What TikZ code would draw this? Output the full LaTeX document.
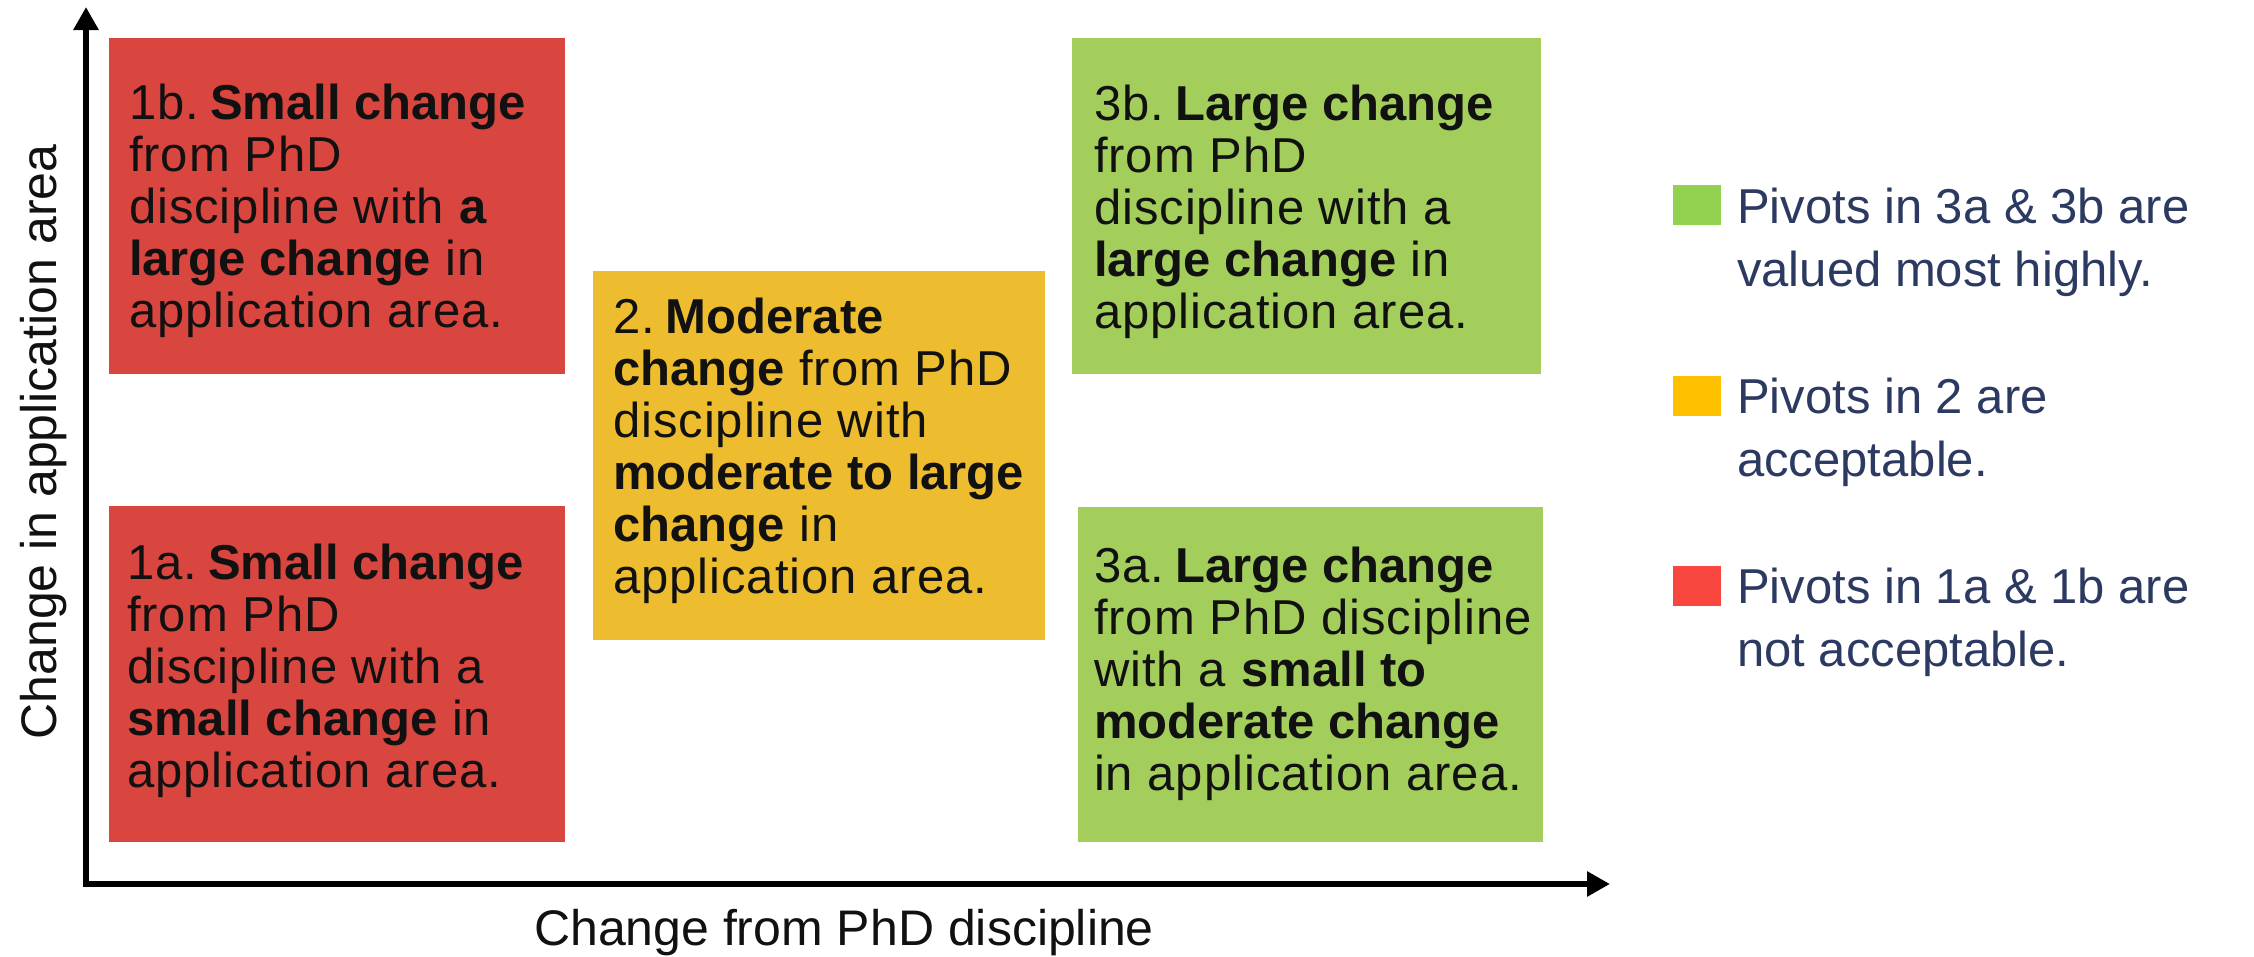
\documentclass[tikz,border=0pt]{standalone}
\usepackage{fontspec}
\setmainfont{Liberation Sans}
\newfontfamily\quadfont{Liberation Sans}[LetterSpace=2.0, BoldFeatures={LetterSpace=0.0}]
\usetikzlibrary{arrows.meta}
\definecolor{boxred}{HTML}{D9463F}
\definecolor{boxyellow}{HTML}{EDBC2F}
\definecolor{boxgreen}{HTML}{A3CE5C}
\definecolor{leggreen}{HTML}{92D050}
\definecolor{legyellow}{HTML}{FFC000}
\definecolor{legred}{HTML}{F9463E}
\definecolor{legtext}{HTML}{2C3A62}
\definecolor{ink}{HTML}{111111}
\newcommand{\lblgap}{\hspace{10pt}}
\tikzset{
  quad/.style={draw=none, inner sep=0pt, rectangle},
  quadtext/.style={inner sep=0pt, anchor=west, align=left, text=ink,
    font=\quadfont\fontsize{49}{52}\selectfont},
  axisline/.style={line width=6.5pt, line join=miter, draw=black,
    {Triangle[length=23pt,width=24pt]}-{Triangle[length=23pt,width=24pt]}},
  axislabel/.style={inner sep=0pt, text=ink, font=\fontsize{50}{58}\selectfont},
  legsq/.style={inner sep=0pt, minimum width=48pt, minimum height=40pt},
  legtxt/.style={inner sep=0pt, anchor=base west, align=left, text=legtext,
    font=\fontsize{49}{63}\selectfont}
}
\begin{document}
\begin{tikzpicture}[x=1pt,y=-1pt]
\useasboundingbox (0,0) rectangle (2254,956);

% quadrant boxes
\node[quad, fill=boxred, minimum width=456pt, minimum height=336pt] (b1b) at (337,206) {};
\node[quad, fill=boxred, minimum width=456pt, minimum height=336pt] (b1a) at (337,674) {};
\node[quad, fill=boxyellow, minimum width=452pt, minimum height=369pt] (b2) at (819,455.5) {};
\node[quad, fill=boxgreen, minimum width=469pt, minimum height=336pt] (b3b) at (1306.5,206) {};
\node[quad, fill=boxgreen, minimum width=465pt, minimum height=335pt] (b3a) at (1310.5,674.5) {};

% texts
\node[quadtext] (t1b) at ([xshift=20pt,yshift=-5pt]b1b.west) {1b.\lblgap\textbf{Small change}\\from PhD\\discipline with \textbf{a}\\\textbf{large change} in\\application area.};
\node[quadtext] (t1a) at ([xshift=18pt,yshift=3pt]b1a.west) {1a.\lblgap\textbf{Small change}\\from PhD\\discipline with a\\\textbf{small change} in\\application area.};
\node[quadtext] (t2) at ([xshift=20pt,yshift=5pt]b2.west) {2.\lblgap\textbf{Moderate}\\\textbf{change} from PhD\\discipline with\\\textbf{moderate to large}\\\textbf{change} in\\application area.};
\node[quadtext] (t3b) at ([xshift=22pt,yshift=-6pt]b3b.west) {3b.\lblgap\textbf{Large change}\\from PhD\\discipline with a\\\textbf{large change} in\\application area.};
\node[quadtext] (t3a) at ([xshift=16pt,yshift=1pt]b3a.west) {3a.\lblgap\textbf{Large change}\\from PhD discipline\\with a \textbf{small to}\\\textbf{moderate change}\\in application area.};

% axes
\coordinate (O) at (86,884);
\coordinate (ytip) at (86,7);
\coordinate (xtip) at (1610,884);
\draw[axisline] (ytip) -- (O) -- (xtip);

\node[axislabel, rotate=90, anchor=base] (ylab) at (56,442) {Change in application area};
\node[axislabel, anchor=base] (xlab) at (844,945) {Change from PhD discipline};

% legend
\node[legsq, fill=leggreen] (lg) at (1697,205) {};
\node[legsq, fill=legyellow] (ly) at (1697,396) {};
\node[legsq, fill=legred] (lr) at (1697,586) {};
\node[legtxt] (lgt) at (1737,286) {Pivots in 3a \& 3b are\\valued most highly.};
\node[legtxt] (lyt) at (1737,476) {Pivots in 2 are\\acceptable.};
\node[legtxt] (lrt) at (1737,666) {Pivots in 1a \& 1b are\\not acceptable.};
\end{tikzpicture}
\end{document}
